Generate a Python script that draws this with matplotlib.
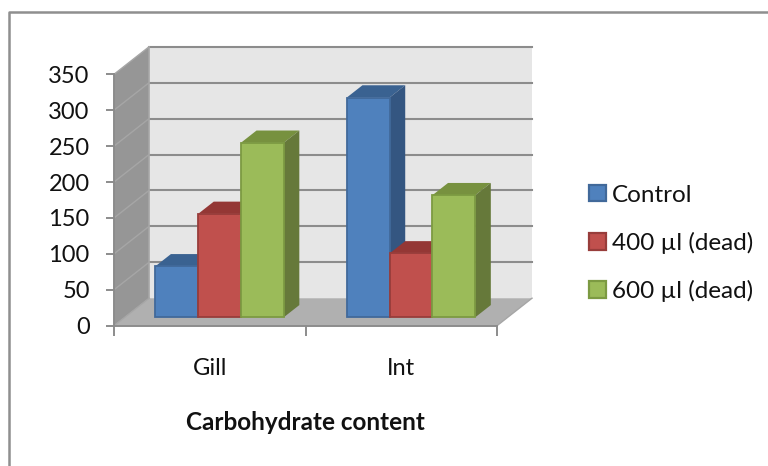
import matplotlib
matplotlib.use("Agg")
import matplotlib.pyplot as plt
from matplotlib.lines import Line2D
from matplotlib.patches import Patch, Polygon

plt.rcParams['font.family'] = ['Lato', 'DejaVu Sans']

# Values per group
categories = ["Gill", "Int"]
series_names = ["Control", "400 µl (dead)", "600 µl (dead)"]
control = [71, 306]
dead_400 = [144, 89]
dead_600 = [243, 170]
y_ticks = [0, 50, 100, 150, 200, 250, 300, 350]

# Colours: front, top, side
blue = ("#4f81bd", "#3a6291", "#345681")
red = ("#c0504d", "#943735", "#943735")
green = ("#9bbb59", "#77913f", "#66793a")
blue_edge, red_edge, green_edge = "#41699a", "#983d3b", "#7c9a42"
line_grey = "#8c8c8c"

W, H = 768, 466
fig = plt.figure(figsize=(W / 100, H / 100), dpi=100)
ax = fig.add_axes([114 / W, (H - 325.7) / H, 383 / W, 251.4 / H])
ax.set_xlim(0, 2)
ax.set_ylim(0, 350)
ax.patch.set_alpha(0)

# Depth of the 3D box in data units
depth_x = 0.183
depth_y = 38.3


def poly(pts, color, z, lw=0, edge=None):
    ax.add_patch(Polygon(pts, closed=True, facecolor=color, edgecolor=edge or color,
                         linewidth=lw, zorder=z, clip_on=False))


# Back wall, side wall and floor
top = 350
poly([(depth_x, depth_y), (2 + depth_x, depth_y), (2 + depth_x, top + depth_y), (depth_x, top + depth_y)], "#e6e6e6", 1)
poly([(0, 0), (depth_x, depth_y), (depth_x, top + depth_y), (0, top)], "#969696", 1)
poly([(0, 0), (2, 0), (2 + depth_x, depth_y), (depth_x, depth_y)], "#b0b0b0", 1)

# Grid lines on both walls
for v in y_ticks[1:]:
    ax.plot([depth_x, 2 + depth_x], [v + depth_y] * 2, color=line_grey, lw=1.5, zorder=2, clip_on=False)
for v in y_ticks:
    ax.plot([0, depth_x], [v, v + depth_y], color="#a6a6a6", lw=1.0, zorder=2, clip_on=False)
ax.plot([depth_x, depth_x], [depth_y, top + depth_y], color="#a6a6a6", lw=1.2, zorder=2, clip_on=False)
ax.plot([2, 2 + depth_x], [0, depth_y], color="#a6a6a6", lw=1.0, zorder=2, clip_on=False)

# Bars: front face sits part way into the box, top and side run further back
bar_w = 0.2235
start = 0.16
front_d = 0.305
back_d = 0.75
x0 = front_d * depth_x
y0 = front_d * depth_y
sx = (back_d - front_d) * depth_x
sy = (back_d - front_d) * depth_y

z = 3
for j, (vals, cols, edge) in enumerate(zip([control, dead_400, dead_600], [blue, red, green],
                                           [blue_edge, red_edge, green_edge])):
    for i, v in enumerate(vals):
        left = i + start + j * bar_w + x0
        right = left + bar_w
        poly([(left, v + y0), (right, v + y0), (right + sx, v + y0 + sy), (left + sx, v + y0 + sy)], cols[1], z)
        poly([(right, y0), (right + sx, y0 + sy), (right + sx, v + y0 + sy), (right, v + y0)], cols[2], z)
        ax.bar(left, v, width=bar_w, bottom=y0, align="edge", color=cols[0], edgecolor=edge,
               linewidth=1.3, zorder=z + 1, clip_on=False)
        z += 2

# Axes and labels
for name in ["top", "right"]:
    ax.spines[name].set_visible(False)
for name in ["left", "bottom"]:
    ax.spines[name].set_color(line_grey)
    ax.spines[name].set_linewidth(1.4)
    ax.spines[name].set_zorder(2)
ax.set_yticks(y_ticks)
ax.set_xticks([0, 1, 2])
ax.set_xticklabels([])
ax.set_xticks([0.5, 1.5], minor=True)
ax.set_xticklabels(categories, minor=True)
ax.tick_params(axis="y", length=6, width=1.4, color=line_grey, labelsize=17, pad=11.5, labelcolor="#111111")
ax.tick_params(axis="x", which="major", length=7, width=1.4, color=line_grey)
ax.tick_params(axis="x", which="minor", length=0, labelsize=17, pad=23.5, labelcolor="#111111")
ax.set_xlabel("Carbohydrate content", fontsize=17.5, fontweight="bold", labelpad=23, color="#111111")

handles = [Patch(facecolor=c[0], edgecolor=e, linewidth=1.6)
           for c, e in zip([blue, red, green], [blue_edge, red_edge, green_edge])]
fig.legend(handles, series_names, loc="center left", bbox_to_anchor=(589 / W, 1 - 243.5 / H), frameon=False,
           fontsize=17.5, handlelength=0.68, handleheight=0.68, handletextpad=0.27,
           labelspacing=1.08, borderpad=0, borderaxespad=0, labelcolor="#111111")

# Chart border running off the right and bottom of the image
border = Line2D([1, 9 / W, 9 / W], [1 - 12 / H, 1 - 12 / H, 0], transform=fig.transFigure,
                color="#8f8f8f", lw=1.8)
fig.add_artist(border)

fig.savefig("out.png", dpi=100)
